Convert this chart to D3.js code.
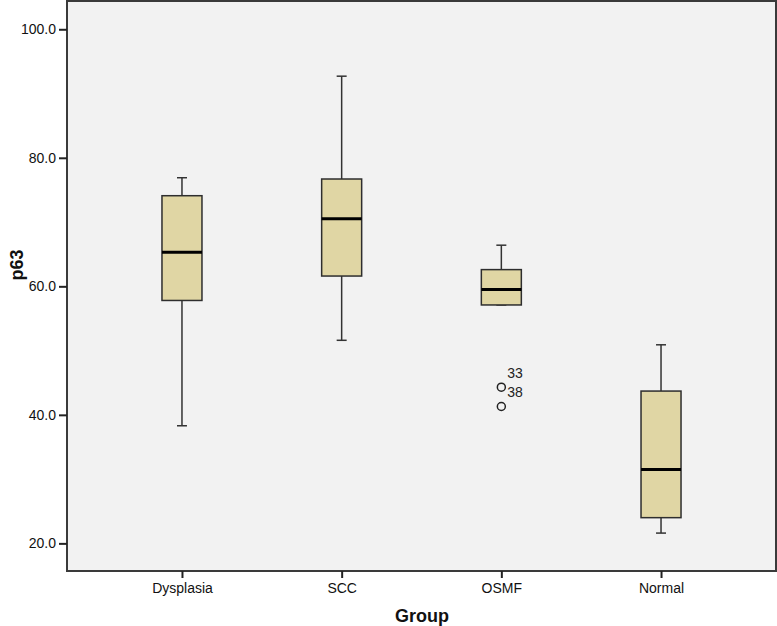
<!DOCTYPE html>
<html><head><meta charset="utf-8">
<script src="https://cdn.jsdelivr.net/npm/d3@7"></script>
<style>body{margin:0;background:#fff}svg{display:block}</style>
</head><body>
<svg id="c" width="777" height="626"></svg>
<script>
const categories = ["Dysplasia", "SCC", "OSMF", "Normal"];
const whiskerLow  = [38.3, 51.6, 57.1, 21.6];
const q1          = [57.8, 61.6, 57.1, 24.0];
const median      = [65.3, 70.5, 59.5, 31.5];
const q3          = [74.1, 76.7, 62.6, 43.7];
const whiskerHigh = [76.9, 92.7, 66.4, 50.9];
const outlierGroup = ["OSMF", "OSMF"];
const outlierValue = [44.3, 41.3];
const outlierLabel = ["33", "38"];
const yTicks = [20, 40, 60, 80, 100];

const svg = d3.select("#c");
const L = 67, R = 776, T = 1, B = 571;
const x = d3.scalePoint().domain(categories).range([L, R]).padding(0.72);
const y = d3.scaleLinear().domain([15.7, 104.4]).range([B, T]);
const FONT = "Liberation Sans, Arial, sans-serif";

svg.append("rect").attr("x", L).attr("y", T).attr("width", R - L).attr("height", B - T)
  .attr("fill", "#f2f2f2").attr("stroke", "#3a3a3a").attr("stroke-width", 2);

const yAxis = svg.append("g").attr("transform", `translate(${L},0)`)
  .call(d3.axisLeft(y).tickValues(yTicks).tickFormat(d3.format(".1f")).tickSize(8).tickPadding(3));
yAxis.select(".domain").remove();
yAxis.selectAll("line").attr("stroke", "#222").attr("stroke-width", 2);
yAxis.selectAll("text").attr("font-family", FONT).attr("font-size", 14).attr("fill", "#111");

const xAxis = svg.append("g").attr("transform", `translate(0,${B})`)
  .call(d3.axisBottom(x).tickSize(7).tickPadding(5));
xAxis.select(".domain").remove();
xAxis.selectAll("line").attr("stroke", "#222").attr("stroke-width", 2);
xAxis.selectAll("text").attr("font-family", FONT).attr("font-size", 14).attr("fill", "#111");

const bw = 40, cw = 10;
categories.forEach((c, i) => {
  const cx = x(c);
  const g = svg.append("g");
  g.append("line").attr("x1", cx).attr("x2", cx).attr("y1", y(whiskerHigh[i])).attr("y2", y(q3[i]))
    .attr("stroke", "#333").attr("stroke-width", 1.5);
  g.append("line").attr("x1", cx).attr("x2", cx).attr("y1", y(q1[i])).attr("y2", y(whiskerLow[i]))
    .attr("stroke", "#333").attr("stroke-width", 1.5);
  g.append("line").attr("x1", cx - cw / 2).attr("x2", cx + cw / 2).attr("y1", y(whiskerHigh[i])).attr("y2", y(whiskerHigh[i]))
    .attr("stroke", "#333").attr("stroke-width", 1.5);
  g.append("line").attr("x1", cx - cw / 2).attr("x2", cx + cw / 2).attr("y1", y(whiskerLow[i])).attr("y2", y(whiskerLow[i]))
    .attr("stroke", "#333").attr("stroke-width", 1.5);
  g.append("rect").attr("x", cx - bw / 2).attr("y", y(q3[i])).attr("width", bw).attr("height", y(q1[i]) - y(q3[i]))
    .attr("fill", "#e0d6a4").attr("stroke", "#2e2e2e").attr("stroke-width", 1.5);
  g.append("line").attr("x1", cx - bw / 2).attr("x2", cx + bw / 2).attr("y1", y(median[i])).attr("y2", y(median[i]))
    .attr("stroke", "#000").attr("stroke-width", 3);
});

outlierValue.forEach((v, i) => {
  const cx = x(outlierGroup[i]);
  svg.append("circle").attr("cx", cx).attr("cy", y(v)).attr("r", 4)
    .attr("fill", "none").attr("stroke", "#222").attr("stroke-width", 1.5);
  svg.append("text").attr("x", cx + 6).attr("y", y(v) - 9)
    .attr("font-family", FONT).attr("font-size", 14).attr("fill", "#222")
    .text(outlierLabel[i]);
});

svg.append("text").attr("x", 422).attr("y", 622).attr("text-anchor", "middle")
  .attr("font-family", FONT).attr("font-size", 18).attr("font-weight", "bold")
  .attr("fill", "#111").text("Group");
svg.append("text").attr("transform", "translate(23,265) rotate(-90)").attr("text-anchor", "middle")
  .attr("font-family", FONT).attr("font-size", 18).attr("font-weight", "bold")
  .attr("fill", "#111").text("p63");
</script>
</body></html>
